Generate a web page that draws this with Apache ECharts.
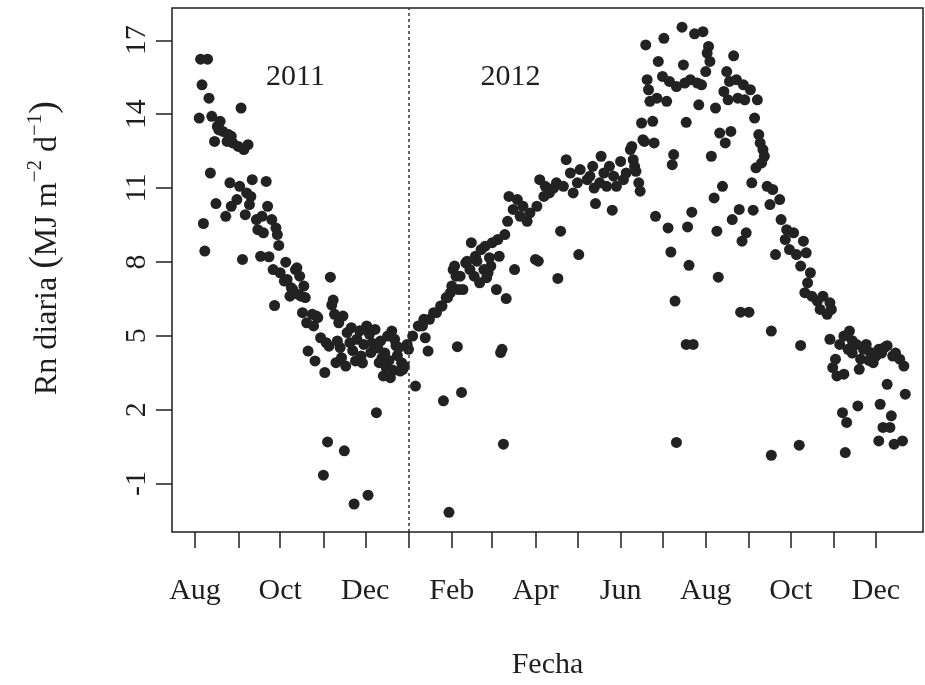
<!DOCTYPE html>
<html><head><meta charset="utf-8">
<script src="https://cdn.jsdelivr.net/npm/echarts@6/dist/echarts.min.js"></script>
<style>html,body{margin:0;padding:0;background:#fff;} #c{width:925px;height:685px;}</style>
</head><body><div id="c"></div>
<script>
// Day offsets are days since 2011-08-01; values are Rn diaria (MJ m-2 d-1)
const startDate = Date.UTC(2011, 7, 1);
const DAY = 86400000;

const pts2011 = [[3,13.84],[4,16.23],[5,15.19],[6,9.56],[7,8.44],[9,16.23],[10,14.65],[11,11.61],[12,13.91],[14,12.89],[15,10.37],[16,13.50],[17,13.37],[18,13.71],[20,13.30],[22,9.85],[23,12.89],[24,13.17],[25,11.21],[26,13.10],[26,10.26],[27,12.83],[30,10.53],[31,12.69],[32,11.07],[33,14.25],[34,8.10],[35,12.56],[36,9.92],[37,10.80],[38,12.76],[39,10.33],[40,10.66],[41,11.34],[44,9.72],[45,9.31],[47,8.23],[48,9.85],[49,9.18],[51,11.27],[52,10.26],[53,8.21],[55,9.72],[56,7.69],[57,6.23],[58,9.38],[59,9.11],[60,8.67],[61,7.56],[64,7.22],[65,7.99],[66,7.29],[68,6.61],[69,6.95],[70,6.88],[72,7.69],[73,7.76],[74,6.68],[75,7.42],[76,6.61],[77,5.94],[78,7.02],[79,6.55],[80,5.53],[81,4.38],[84,5.87],[85,5.40],[86,3.98],[87,5.80],[88,5.74],[90,4.92],[92,-0.66],[93,3.51],[94,4.72],[95,0.69],[96,4.58],[97,7.38],[98,6.25],[99,6.45],[100,5.87],[101,3.91],[102,4.79],[103,5.53],[104,4.52],[105,4.11],[106,5.80],[107,0.33],[108,3.77],[109,5.13],[111,4.72],[112,5.33],[113,4.4],[114,-1.83],[115,3.98],[116,4.86],[117,4.0],[118,5.2],[119,4.18],[120,3.9],[121,4.65],[123,5.40],[124,-1.47],[125,5.06],[126,4.32],[127,4.7],[129,5.26],[130,1.88],[131,4.5],[132,3.91],[133,4.79],[134,4.1],[135,3.37],[136,4.3],[137,3.71],[138,4.99],[139,4.0],[140,3.30],[141,5.19],[142,3.6],[143,4.86],[144,4.6],[145,4.2],[146,4.52],[147,3.57],[148,3.91],[149,3.64],[150,3.77],[152,4.65]];

const pts2012a = [[153,4.45],[156,4.99],[158,2.96],[160,5.40],[161,5.40],[163,5.40],[164,5.67],[165,4.92],[167,4.38],[168,5.67],[171,5.94],[173,5.94],[176,6.21],[177,6.21],[178,2.36],[180,6.55],[181,6.55],[182,-2.17],[183,6.75],[184,7.02],[185,7.69],[186,7.83],[187,7.42],[188,4.56],[189,6.88],[190,7.42],[191,2.70],[192,6.88],[194,7.96],[195,8.03],[197,7.69],[198,8.78],[200,7.42],[201,8.23],[202,8.03],[204,7.15],[205,8.50],[207,7.69],[208,8.64],[209,7.36],[210,7.56],[211,8.17],[212,7.83],[213,8.78],[216,6.88],[217,8.91],[218,8.23],[219,4.32],[220,4.45],[221,0.60],[222,9.11],[223,6.51],[224,9.65],[225,10.66],[228,10.13],[229,7.69],[231,10.53],[233,9.85],[235,10.26],[238,9.65],[240,9.99],[244,8.10],[245,10.26],[246,8.03],[247,11.34],[250,10.66],[251,11.07],[254,10.80],[257,11.0],[259,11.21],[260,7.33],[262,9.25],[264,11.07],[266,12.15],[269,11.61],[271,10.80],[274,11.21],[275,8.30],[276,11.75],[281,11.34],[283,11.48],[285,11.88],[286,11.0],[287,10.37],[290,11.21],[291,12.29],[293,11.61],[295,11.07],[297,11.88],[299,10.10],[300,11.48],[302,11.07],[305,12.08],[307,11.34],[309,11.61],[312,12.56],[313,12.69],[314,12.15],[315,11.88],[316,11.68],[318,11.21],[319,10.87]];

const pts2012b = [[320,13.64],[321,12.96],[322,12.89],[323,16.81],[324,15.40],[325,14.99],[326,14.52],[328,13.71],[329,12.83],[330,9.85],[331,14.65],[332,16.14],[335,15.53],[336,17.08],[338,14.52],[339,9.38],[340,15.33],[341,8.40],[342,11.95],[343,12.36],[344,6.41],[345,15.12],[345,0.67],[349,17.53],[350,16.0],[351,15.26],[352,13.67],[352,4.65],[353,9.42],[354,7.86],[355,15.40],[356,10.02],[357,4.65],[358,17.26],[360,15.26],[361,14.38],[363,15.19],[364,17.35],[366,15.73],[367,16.48],[368,16.75],[369,16.14],[370,12.29],[372,10.60],[373,14.25],[374,9.25],[375,7.38],[376,13.23],[378,11.07],[379,14.92],[380,12.83],[381,15.73],[382,14.58],[383,15.33],[384,13.30],[385,9.72],[386,16.37],[388,15.40],[389,14.65],[390,10.13],[391,5.96],[392,8.84],[393,15.19],[394,14.58],[395,9.18],[397,5.96],[398,14.99],[399,11.21],[400,10.10],[401,13.84],[402,11.82],[403,14.58],[404,13.17],[405,12.83],[406,12.02],[407,12.56],[408,12.29],[410,11.07],[412,10.33],[413,5.19],[413,0.15],[414,10.94],[416,8.30],[419,10.53],[420,9.72],[423,8.91],[424,9.31],[426,8.50],[429,9.18],[431,8.30],[433,0.56],[434,7.83],[434,4.61],[436,8.84],[437,6.75],[438,8.37],[439,7.15],[441,7.56],[442,6.61],[446,6.41],[448,6.07],[450,6.61],[453,5.87],[455,6.34],[455,4.86],[456,6.07],[457,3.71],[459,4.05],[460,3.37],[462,4.65],[464,1.88],[465,3.44],[465,4.99],[466,0.26],[467,1.48],[468,4.45],[469,5.19],[471,4.3],[471,4.8],[474,4.65],[475,2.15],[476,3.64],[477,4.05],[479,4.45],[481,4.65],[483,4.0],[484,4.32],[486,3.91],[488,4.18],[490,0.73],[490,4.45],[491,2.22],[492,4.3],[493,1.28],[494,4.52],[496,3.03],[496,4.6],[498,1.28],[499,1.75],[500,4.18],[501,0.60],[502,4.3],[505,4.05],[507,0.73],[508,3.77],[509,2.63]];

const monthNames = ['Jan','Feb','Mar','Apr','May','Jun','Jul','Aug','Sep','Oct','Nov','Dec'];
const tickMonths = [[2011,7],[2011,8],[2011,9],[2011,10],[2011,11],[2012,0],[2012,1],[2012,2],[2012,3],[2012,4],[2012,5],[2012,6],[2012,7],[2012,8],[2012,9],[2012,10],[2012,11]];
const labelMonths = [[2011,7],[2011,9],[2011,11],[2012,1],[2012,3],[2012,5],[2012,7],[2012,9],[2012,11]];
const yTicks = [-1, 2, 5, 8, 11, 14, 17];
const yearLabels = [{text:'2011', day:72, value:15.5},{text:'2012', day:226, value:15.5}];
const splitDate = [2012, 0, 1];
const xRangeDays = [-16.5, 521.7];
const yRange = [-2.967, 18.31];

const FONT = 'Liberation Serif';
const INK = '#1e1e1e';
const FS = 30;
const toTs = d => startDate + d * DAY;
const toPts = arr => arr.map(p => [toTs(p[0]), p[1]]);

const chart = echarts.init(document.getElementById('c'), null, {renderer: 'canvas'});
const scatterStyle = {type:'scatter', symbol:'circle', symbolSize:11, itemStyle:{color:'#222', opacity:1}, silent:true};
chart.setOption({
  animation:false,
  backgroundColor:'#fff',
  grid:{left:172, right:2, top:8, bottom:152, show:true, borderColor:INK, borderWidth:1.5, backgroundColor:'transparent'},
  xAxis:{
    type:'value', min:toTs(xRangeDays[0]), max:toTs(xRangeDays[1]),
    axisLine:{show:false, onZero:false}, splitLine:{show:false},
    axisTick:{show:true, length:16, lineStyle:{color:INK, width:1.5}, customValues: tickMonths.map(m=>Date.UTC(m[0],m[1],1))},
    axisLabel:{show:true, margin:44, fontFamily:FONT, fontSize:FS, color:INK,
      customValues: labelMonths.map(m=>Date.UTC(m[0],m[1],1)),
      formatter: v => monthNames[new Date(v).getUTCMonth()]},
    name:'Fecha', nameLocation:'middle', nameGap:118,
    nameTextStyle:{fontFamily:FONT, fontSize:FS, color:INK}
  },
  yAxis:{
    type:'value', min:yRange[0], max:yRange[1],
    axisLine:{show:false, onZero:false}, splitLine:{show:false},
    axisTick:{show:true, length:16, lineStyle:{color:INK, width:1.5}, customValues: yTicks},
    axisLabel:{show:true, rotate:90, margin:20, fontFamily:FONT, fontSize:FS, color:INK, customValues: yTicks},
    name:'{a|Rn diaria }{p|(}{a|MJ m}{s|−2}{a| d}{s|−1}{p|)}', nameLocation:'middle', nameRotate:90, nameGap:108,
    nameTextStyle:{fontFamily:FONT, fontSize:32, color:INK, padding:[0,0,0,44],
      rich:{
        a:{fontFamily:FONT, fontSize:32, color:INK, lineHeight:39, verticalAlign:'bottom'},
        p:{fontFamily:FONT, fontSize:38, color:INK, lineHeight:39, verticalAlign:'bottom'},
        s:{fontFamily:FONT, fontSize:21, color:INK, lineHeight:39, verticalAlign:'top'}
      }}
  },
  series:[
    Object.assign({}, scatterStyle, {data:toPts(pts2011),
      markLine:{silent:true, symbol:['none','none'], label:{show:false},
        lineStyle:{type:[3,3], color:'#333', width:1.5},
        data:[{xAxis: Date.UTC(splitDate[0], splitDate[1], splitDate[2])}]}}),
    Object.assign({}, scatterStyle, {data:toPts(pts2012a)}),
    Object.assign({}, scatterStyle, {data:toPts(pts2012b)}),
    {type:'scatter', symbolSize:0, silent:true, itemStyle:{opacity:1},
      data: yearLabels.map(y=>({name:y.text, value:[toTs(y.day), y.value]})),
      label:{show:true, position:'inside', formatter:p=>p.name, fontFamily:FONT, fontSize:FS, color:INK, opacity:1}}
  ]
});
</script></body></html>
